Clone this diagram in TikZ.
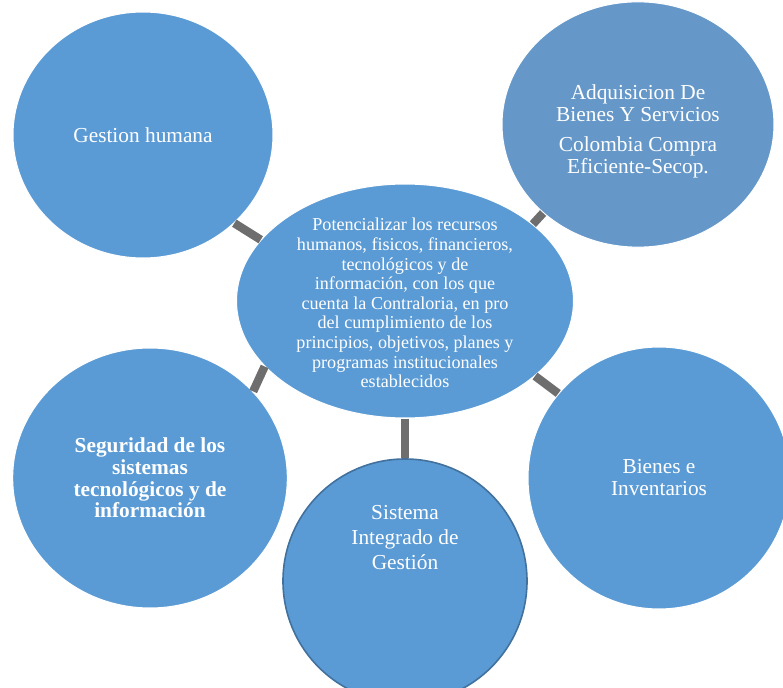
\documentclass[tikz,border=0pt]{standalone}
\usepackage{fontspec}
\setmainfont{Liberation Serif}
\usetikzlibrary{shapes.geometric}
\definecolor{smblue}{RGB}{91,155,213}
\definecolor{smgrey}{RGB}{101,152,201}
\definecolor{smdark}{RGB}{65,113,156}
\definecolor{smlink}{RGB}{110,110,110}

\begin{document}
\begin{tikzpicture}[x=0.75pt,y=-0.75pt,
      disc/.style={ellipse,draw=white,line width=0.8pt,fill=smblue,inner sep=0pt},
      txt/.style={text=white,align=center,font=\fontsize{16}{16.5}\selectfont},
      link/.style={smlink,line width=6.3pt}]
    \useasboundingbox (0,0) rectangle (783,688);
    \clip (0,0) rectangle (783,688);
    % Central ellipse
    \node[disc,minimum width=252.75pt,minimum height=175.5pt] (hub) at (405,301) {};
    \node[txt,font=\fontsize{13.6}{14.7}\selectfont] (hubtxt) at (405,303)
         {Potencializar los recursos\\humanos, fisicos, financieros,\\tecnológicos y de\\información, con los que\\cuenta la Contraloria, en pro\\del cumplimiento de los\\principios, objetivos, planes y\\programas institucionales\\establecidos};
    % Outer circles
    \node[disc,minimum width=195pt,minimum height=184.5pt] (gh) at (143,135) {};
    \node[txt] (ghtxt) at (gh) {Gestion humana};
    \node[disc,fill=smgrey,minimum width=204pt,minimum height=184pt] (adq) at (638,124.5) {};
    \node[txt] (adqtxt) at (638,131) {Adquisicion De\\Bienes Y Servicios\\[6pt]Colombia Compra\\Eficiente-Secop.};
    \node[disc,minimum width=206pt,minimum height=195pt] (seg) at (150,478) {};
    \node[txt,font=\bfseries\fontsize{16}{16.3}\selectfont] (segtxt) at (seg) {Seguridad de los\\sistemas\\tecnológicos y de\\información};
    \node[disc,draw=smdark,line width=1.2pt,minimum width=183pt,minimum height=183pt] (sig) at (405,581) {};
    \node[txt,font=\fontsize{16}{18.75}\selectfont] (sigtxt) at (405,538) {Sistema\\Integrado de\\Gestión};
    \node[disc,minimum width=196.5pt,minimum height=196.5pt] (bie) at (659,478) {};
    \node[txt] (bietxt) at (bie) {Bienes e\\Inventarios};
    % Links
    \draw[link] (hub.157)--(gh.-44);
    \draw[link] (hub.31)--(adq.223);
    \draw[link] (hub.205.5)--(seg.40.5);
    \draw[link] (hub)--(sig);
    \draw[link] (hub.-30.5)--(bie.140.5);
  \end{tikzpicture}
\end{document}
